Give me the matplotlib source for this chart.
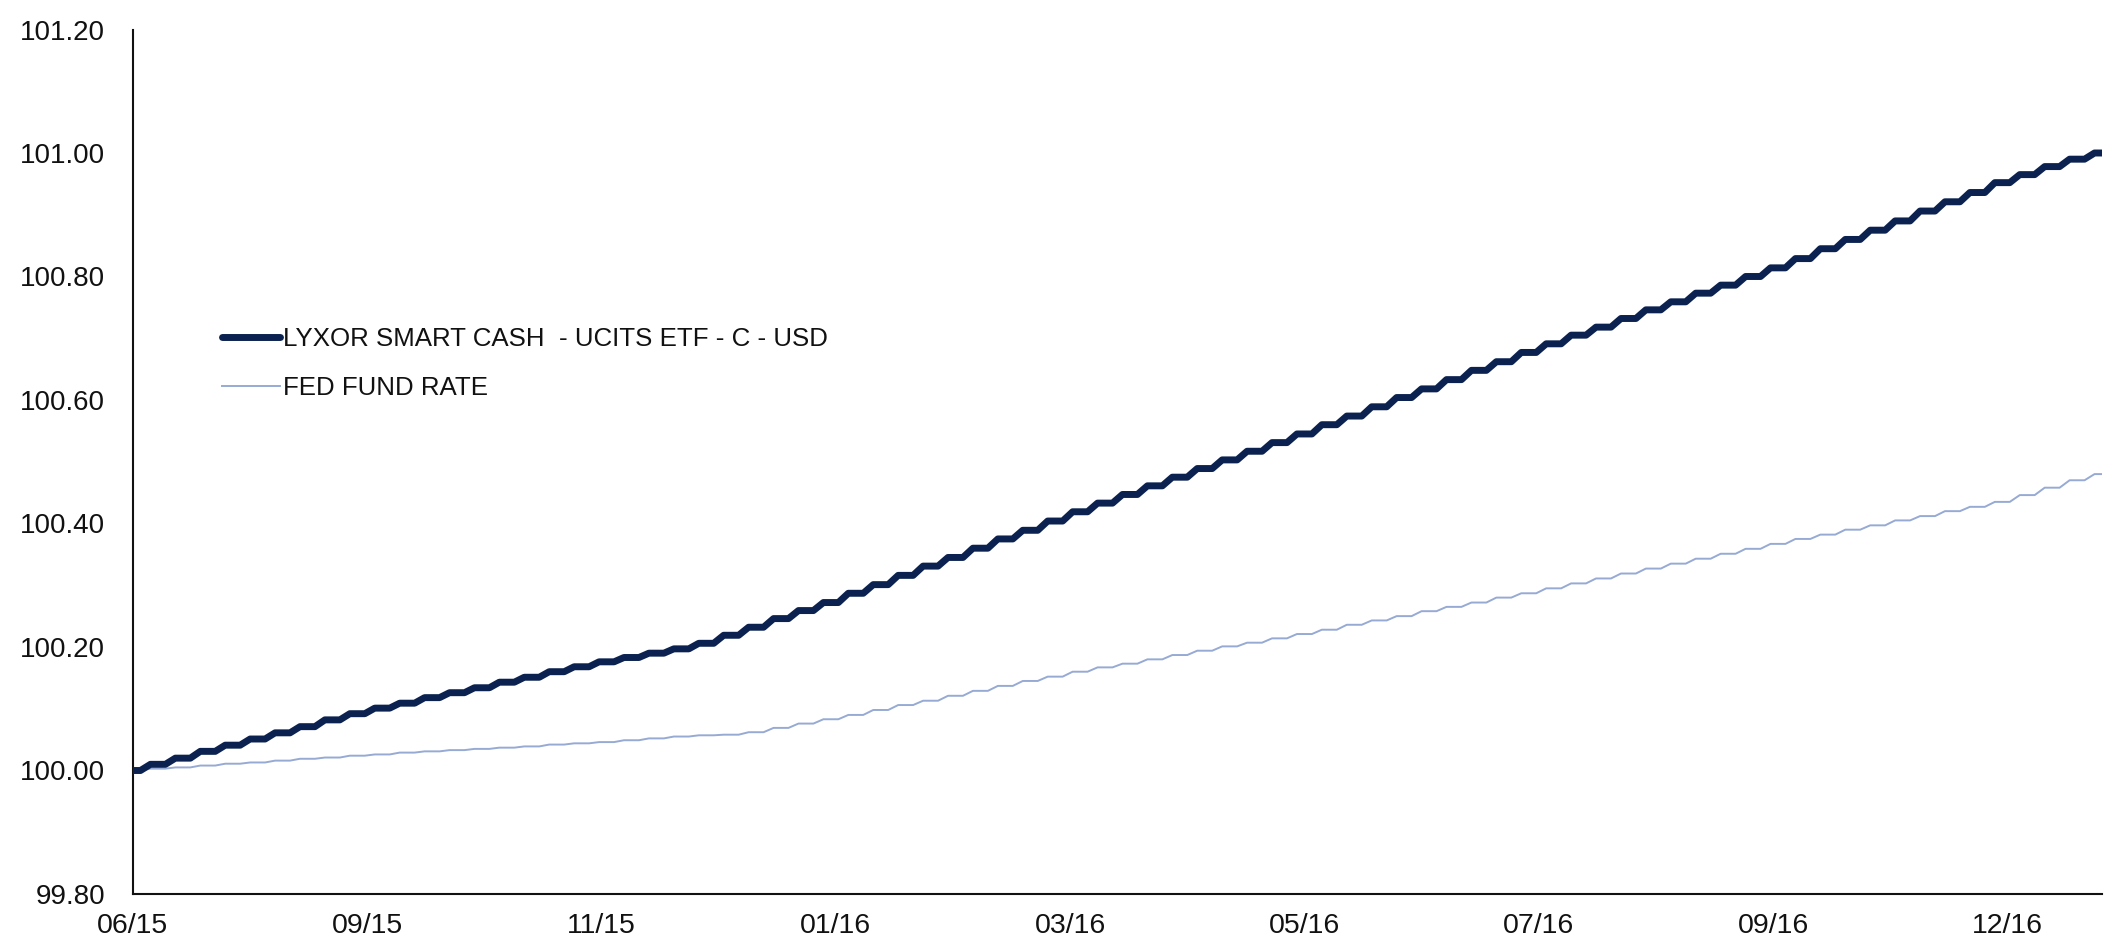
import numpy as np
import matplotlib
matplotlib.use("Agg")
import matplotlib.pyplot as plt
from matplotlib.ticker import MultipleLocator, FormatStrFormatter

plt.rcParams['font.family'] = ['Liberation Sans', 'DejaVu Sans']

# weekly values (base 100 at 06/15)
lyxor = [100.000, 100.010, 100.020, 100.031, 100.041, 100.051, 100.061, 100.071,
         100.082, 100.092, 100.101, 100.109, 100.118, 100.126, 100.134, 100.143,
         100.151, 100.160, 100.168, 100.176, 100.183, 100.190, 100.197, 100.206,
         100.219, 100.232, 100.246, 100.259, 100.272, 100.287, 100.301, 100.316,
         100.331, 100.345, 100.360, 100.375, 100.389, 100.404, 100.419, 100.433,
         100.447, 100.461, 100.475, 100.489, 100.503, 100.517, 100.531, 100.545,
         100.560, 100.574, 100.589, 100.604, 100.618, 100.633, 100.648, 100.662,
         100.677, 100.691, 100.705, 100.718, 100.732, 100.746, 100.759, 100.773,
         100.786, 100.800, 100.814, 100.829, 100.845, 100.860, 100.875, 100.890,
         100.906, 100.921, 100.936, 100.952, 100.965, 100.978, 100.990, 101.000]

fed = [100.000, 100.003, 100.005, 100.008, 100.011, 100.013, 100.016, 100.019,
       100.021, 100.024, 100.026, 100.029, 100.031, 100.033, 100.035, 100.037,
       100.039, 100.042, 100.044, 100.046, 100.049, 100.052, 100.055, 100.057,
       100.058, 100.062, 100.069, 100.076, 100.083, 100.090, 100.098, 100.106,
       100.113, 100.121, 100.129, 100.137, 100.145, 100.152, 100.160, 100.167,
       100.173, 100.180, 100.187, 100.194, 100.201, 100.207, 100.214, 100.221,
       100.228, 100.236, 100.243, 100.250, 100.258, 100.265, 100.272, 100.280,
       100.287, 100.295, 100.303, 100.311, 100.319, 100.327, 100.335, 100.343,
       100.351, 100.359, 100.367, 100.375, 100.382, 100.390, 100.397, 100.405,
       100.412, 100.420, 100.427, 100.435, 100.446, 100.458, 100.470, 100.480]

tick_labels = ['06/15', '09/15', '11/15', '01/16', '03/16', '05/16', '07/16', '09/16', '12/16']
weeks_per_tick = 9.4  # label every ~47 business days

labels = ['LYXOR SMART CASH  - UCITS ETF - C - USD', 'FED FUND RATE']


def week_path(vals, hold=0.6):
    # each weekly value is held flat during the week, the weekend jump is a short ramp
    x, y = [], []
    n = len(vals)
    for i, v in enumerate(vals):
        x0 = max(i - hold / 2, 0)
        x1 = min(i + hold / 2, n - 1)
        x += [x0, x1]
        y += [v, v]
    return np.array(x), np.array(y)


fig = plt.figure(figsize=(21.04, 9.52), dpi=100)
ax = fig.add_axes([133 / 2104, 1 - 894 / 952, 1969 / 2104, (894 - 29.5) / 952])

x1, y1 = week_path(lyxor)
x2, y2 = week_path(fed)
ax.plot(x1, y1, color='#0b2250', lw=5, solid_joinstyle='round',
        solid_capstyle='round', label=labels[0], zorder=3)
ax.plot(x2, y2, color='#96aad4', lw=1.4, label=labels[1], zorder=2)

ax.set_xlim(0, len(lyxor) - 1)
ax.set_ylim(99.8, 101.2)
ax.yaxis.set_major_locator(MultipleLocator(0.2))
ax.yaxis.set_major_formatter(FormatStrFormatter('%.2f'))
ax.set_xticks([i * weeks_per_tick for i in range(len(tick_labels))])
ax.set_xticklabels(tick_labels)

for s in ['top', 'right']:
    ax.spines[s].set_visible(False)
for s in ['left', 'bottom']:
    ax.spines[s].set_linewidth(1.5)
    ax.spines[s].set_color('#111111')
ax.tick_params(axis='y', length=0, pad=20, labelsize=20, colors='#111111')
ax.tick_params(axis='x', length=0, pad=14, labelsize=20.5, colors='#111111')

leg = fig.legend(loc='center left', bbox_to_anchor=(222 / 2104, 1 - 363.5 / 952),
                 frameon=False, fontsize=18.6, handlelength=2.25, handletextpad=0.1,
                 labelspacing=1.0, borderpad=0, borderaxespad=0)
for t in leg.get_texts():
    t.set_color('#111111')

fig.savefig('out.png', dpi=100)
